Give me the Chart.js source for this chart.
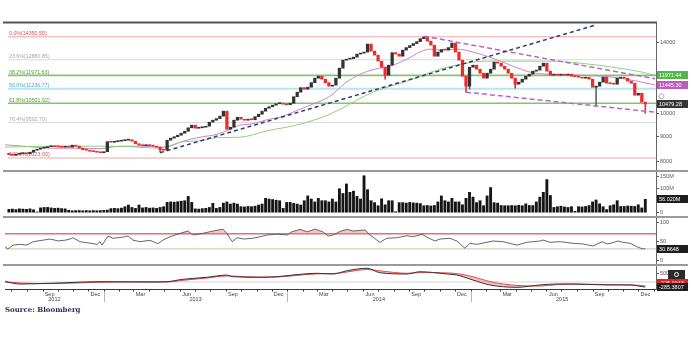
<!DOCTYPE html>
<html>
<head>
<meta charset="utf-8">
<title>QE Index weekly</title>
<script src="https://cdn.jsdelivr.net/npm/chart.js@4.4.1/dist/chart.umd.min.js"></script>
<style>
  html, body { margin: 0; padding: 0; background: #fff; }
  #wrap { position: relative; width: 692px; height: 338px; }
  #source { position: absolute; left: 5px; top: 305px; font: bold 7px "DejaVu Serif", serif; line-height: 10px; color: #2b2d4e; }
</style>
</head>
<body>
<div id="wrap">
  <canvas id="chart" width="692" height="338"></canvas>
  <div id="source">Source: Bloomberg</div>
</div>
<script>
// weekly bars, week 0 = 26 Jun 2012
const startDate = Date.UTC(2012, 5, 26);
const WEEK = 7 * 24 * 3600 * 1000;

const quarterMonths = ['Mar', 'Jun', 'Sep', 'Dec'];
const years = ['2012', '2013', '2014', '2015'];

const firstOpen = 8300;
const closes = [
  8250, 8230, 8265, 8285, 8305, 8285, 8345, 8425, 8465, 8505,
  8525, 8565, 8605, 8565, 8560, 8545, 8565, 8545, 8625, 8585,
  8505, 8445, 8425, 8385, 8365, 8345, 8325, 8365, 8770, 8745,
  8770, 8790, 8810, 8830, 8850, 8790, 8685, 8625, 8605, 8625,
  8605, 8585, 8545, 8445, 8425, 8830, 8915, 8975, 9040, 9125,
  9210, 9360, 9475, 9340, 9360, 9385, 9430, 9610, 9700, 9770,
  9885, 10120, 9295, 9385, 9700, 9835, 9745, 9700, 9745, 9720,
  9860, 9975, 10120, 10260, 10335, 10410, 10480, 10505, 10455, 10430,
  10505, 10830, 11065, 11300, 11220, 11325, 11570, 11815, 11925, 11760,
  11570, 11380, 11435, 11815, 12385, 12860, 12920, 12950, 13040, 13230,
  13290, 13355, 13865, 13420, 13165, 12800, 12440, 11985, 12560, 13320,
  13230, 13100, 13480, 13640, 13770, 13900, 14025, 14225, 14330, 14060,
  13800, 13100, 13355, 13510, 13480, 13640, 13930, 13355, 12860, 11925,
  11380, 12440, 12560, 12325, 12095, 11815, 12095, 12325, 12740, 12680,
  12500, 12325, 12095, 11815, 11485, 11595, 11760, 11925, 12040, 12210,
  12270, 12500, 12680, 12210, 11985, 12040, 11985, 12010, 11985, 12040,
  11925, 11900, 11870, 11815, 11870, 11760, 11325, 11380, 11595, 11870,
  11540, 11510, 11485, 11815, 11870, 11815, 11650, 11540, 10910, 11010,
  10555, 10479.28
];
// weeks whose shadow reaches past the body
const wickWeek = [43, 107, 118, 130, 131, 144, 167, 181];
const wickLow = [8345, 11760, 14225, 11065, 11220, 11270, 10360, 10020];
const wickHigh = [8545, 12440, 14350.55, 11925, 12440, 11815, 11380, 10555];

// volume, millions of shares
const volumeM = [
  14, 15, 13, 16, 15, 14, 16, 12, 3, 20,
  22, 22, 20, 18, 19, 17, 16, 10, 8, 9,
  9, 8, 9, 8, 9, 8, 9, 10, 11, 17,
  18, 17, 19, 25, 32, 22, 18, 32, 20, 22,
  19, 20, 18, 22, 25, 43, 45, 44, 46, 48,
  50, 68, 43, 16, 15, 17, 18, 22, 39, 18,
  22, 40, 45, 36, 40, 36, 25, 24, 26, 25,
  27, 32, 36, 60, 57, 55, 52, 50, 18, 43,
  43, 39, 36, 32, 50, 70, 57, 45, 60, 50,
  50, 45, 57, 45, 100, 80, 120, 85, 90, 68,
  57, 154, 96, 50, 42, 29, 58, 33, 50, 50,
  4, 42, 42, 40, 43, 41, 40, 38, 29, 30,
  28, 30, 45, 70, 50, 45, 60, 45, 45, 33,
  60, 85, 65, 42, 50, 29, 70, 105, 42, 40,
  30, 29, 29, 30, 29, 31, 29, 37, 30, 30,
  45, 65, 85, 138, 72, 22, 25, 27, 24, 22,
  25, 6, 25, 24, 26, 30, 45, 53, 37, 25,
  13, 29, 33, 50, 26, 26, 28, 27, 26, 33,
  20, 56.02
];

// moving averages
const maFastWeek = [-1.1, 6.0, 11.7, 20.2, 25.9, 31.6, 38.1, 43.0, 45.8, 49.5, 54.4, 59.2, 62.9, 65.7, 68.6, 73.4, 78.0, 82.8, 87.1, 91.3, 95.6, 99.9, 104.1, 108.4, 113.2, 116.9, 119.8, 122.6, 127.4, 132.0, 136.8, 143.4, 148.2, 153.0, 162.4, 171.8, 178.6, 183.8];
const maFast = [8640, 8565, 8505, 8505, 8485, 8585, 8585, 8545, 8585, 8790, 8955, 9080, 9295, 9475, 9520, 9720, 9885, 10215, 10505, 10855, 11540, 12040, 12325, 12500, 12920, 13355, 13545, 13480, 13545, 13355, 13040, 12500, 12155, 12040, 11985, 11870, 11650, 11445.30];
const maSlowWeek = [-1.1, 3.2, 14.5, 25.9, 34.4, 43.0, 48.7, 54.4, 59.2, 65.7, 73.4, 82.8, 91.3, 94.2, 103.6, 113.2, 122.6, 132.0, 136.8, 145.4, 153.0, 162.4, 171.8, 179.5, 183.8];
const maSlow = [8545, 8565, 8585, 8585, 8565, 8505, 8745, 8810, 8935, 8955, 9225, 9520, 9975, 10215, 11065, 11650, 12325, 12740, 12800, 12800, 12800, 12680, 12440, 12180, 11971.44];

// trend line and falling channel
const trendWeek = [43.0, 166.7];
const trendValue = [8325, 15150];
const channelTopWeek = [118.1, 183.8];
const channelTop = [14390, 11780];
const channelLowWeek = [130.0, 183.8];
const channelLow = [11065, 10070];

// retracement from the 2012 low to the 2014 high
const fibHigh = 14350.55;
const fibLow = 8123.00;
const fibPct = [0, 23.6, 38.2, 50, 61.8, 76.4, 100];

const rsiWeek = [-1.1, -0.3, 1.2, 3.2, 5.1, 6.9, 9.7, 11.7, 14.0, 16.0, 17.4, 18.2, 20.2, 23.1, 25.1, 25.9, 26.5, 28.2, 29.6, 32.5, 33.9, 35.3, 37.3, 40.1, 42.4, 43.8, 45.8, 48.7, 50.9, 52.4, 55.2, 58.0, 60.9, 62.0, 63.5, 64.9, 66.6, 69.4, 71.4, 73.4, 76.3, 79.1, 80.5, 82.8, 84.8, 87.1, 89.3, 90.8, 92.2, 94.2, 96.2, 97.9, 101.3, 102.7, 105.5, 107.5, 110.4, 113.2, 114.9, 117.5, 119.2, 121.2, 122.6, 125.4, 127.4, 129.7, 131.1, 133.1, 136.0, 137.7, 140.5, 144.5, 147.4, 151.0, 151.9, 153.9, 156.8, 160.4, 163.3, 166.1, 168.7, 170.1, 171.8, 173.2, 174.6, 176.7, 178.6, 180.3, 181];
const rsi = [36, 30, 40, 42, 40, 49, 53, 56, 51, 53, 56, 59.5, 49, 45, 42, 49, 40, 64, 58, 61, 64, 53, 49, 52.6, 43.7, 53, 62, 71, 77, 66.6, 71, 77, 82, 71, 49, 59.5, 56, 58, 62, 66.6, 69, 66.6, 75, 81.5, 75, 82, 75, 64, 66.6, 76, 81.5, 77, 80, 66.6, 47.4, 58, 59.5, 64.7, 62, 68.4, 59.5, 50.8, 56, 58, 50.8, 31.6, 44.7, 42, 47.4, 50.8, 49, 40, 47.4, 50.8, 53.4, 47.4, 49, 44.7, 43, 37.6, 49, 43, 46.3, 50.8, 47.4, 44.7, 35.8, 29.7, 30.8648];

const macdWeek = [-1.1, 3.2, 11.7, 25.9, 40.1, 44.9, 49.5, 56.3, 62.0, 63.7, 71.4, 76.3, 80.8, 87.6, 92.2, 96.2, 101.9, 105.5, 113.2, 116.9, 124.6, 127.4, 132.0, 136.8, 144.5, 151.0, 155.9, 160.4, 170.1, 176.7, 180.3, 181];
const macd = [17, -115, -75, 17, 0, 17, 155, 270, 400, 305, 270, 305, 400, 500, 460, 650, 790, 535, 460, 590, 460, 400, 115, -170, -305, -170, -115, -115, -170, -170, -270, -285.3807];
const macdSignal = [20, -60, -90, -10, 10, 5, 100, 230, 350, 340, 280, 290, 360, 470, 480, 580, 720, 640, 500, 540, 520, 480, 300, 20, -200, -230, -150, -120, -150, -165, -215, -226.1043];

// ---------------------------------------------------------------

const xMin = -1.11, xMax = 184.04;
const UP = '#333333', DOWN = '#ee2b2b';
const tickFont = { family: '"Liberation Sans", Arial, sans-serif', size: 5.5 };

const weekOf = (y, m, d) => (Date.UTC(y, m, d) - startDate) / WEEK;

const quarterTicks = [];
years.forEach(y => {
  quarterMonths.forEach(name => {
    const m = ['Jan','Feb','Mar','Apr','May','Jun','Jul','Aug','Sep','Oct','Nov','Dec'].indexOf(name);
    const w = weekOf(+y, m, 15);
    if (w > xMin && w < xMax) quarterTicks.push({ w, name });
  });
});

const opens = closes.map((c, i) => i === 0 ? firstOpen : closes[i - 1]);
const candleColor = i => closes[i] >= opens[i] ? UP : DOWN;

const fibLevels = fibPct.map(p => {
  const value = fibHigh - p / 100 * (fibHigh - fibLow);
  return { value, label: p.toFixed(1) + '%(' + value.toFixed(2) + ')' };
});
const fibLine = ['#f2a3a3', '#d9d9d9', '#80c66c', '#b8e4f2', '#80c66c', '#d9d9d9', '#f2a3a3'];
const fibWidth = [1, 1, 1.6, 2, 1.6, 1, 1];
const fibText = ['#d9534f', '#a6a6a6', '#4f9a35', '#4aa8cc', '#4f9a35', '#a6a6a6', '#d9534f'];

const pts = (xs, ys) => xs.map((x, i) => ({ x, y: ys[i] }));
const flat = v => [{ x: xMin, y: v }, { x: xMax, y: v }];

const datasets = [];

fibLevels.forEach((f, k) => datasets.push({
  type: 'line', yAxisID: 'yP', order: 10,
  data: [{ x: -0.3, y: f.value }, { x: xMax, y: f.value }],
  borderColor: fibLine[k], borderWidth: fibWidth[k], pointRadius: 0
}));

datasets.push({
  type: 'line', yAxisID: 'yP', order: 6, data: pts(maSlowWeek, maSlow),
  borderColor: '#8fd07e', borderWidth: 1, pointRadius: 0, cubicInterpolationMode: 'monotone'
});
datasets.push({
  type: 'line', yAxisID: 'yP', order: 6, data: pts(maFastWeek, maFast),
  borderColor: '#cf7fcf', borderWidth: 1, pointRadius: 0, cubicInterpolationMode: 'monotone'
});

datasets.push({
  type: 'bar', yAxisID: 'yP', order: 4, grouped: false, barThickness: 1,
  data: wickWeek.map((w, k) => ({ x: w, y: [wickLow[k], wickHigh[k]] })),
  backgroundColor: wickWeek.map(w => candleColor(w) === UP ? '#666' : DOWN)
});
datasets.push({
  type: 'bar', yAxisID: 'yP', order: 3, grouped: false, barThickness: 2.6, minBarLength: 1,
  data: closes.map((c, i) => ({ x: i, y: [opens[i], c] })),
  backgroundColor: closes.map((c, i) => candleColor(i))
});

datasets.push({
  type: 'line', yAxisID: 'yP', order: 1, data: pts(trendWeek, trendValue),
  borderColor: '#2e3d6b', borderWidth: 1.5, borderDash: [4, 3], pointRadius: 0
});
[[channelTopWeek, channelTop], [channelLowWeek, channelLow]].forEach(([w, v]) => datasets.push({
  type: 'line', yAxisID: 'yP', order: 1, data: pts(w, v),
  borderColor: '#b567c4', borderWidth: 1.5, borderDash: [5, 3], pointRadius: 0
}));

datasets.push({
  type: 'bar', yAxisID: 'yV', order: 3, grouped: false, barThickness: 2.2,
  data: volumeM.map((v, i) => ({ x: i, y: v })), backgroundColor: '#151515'
});

datasets.push({ type: 'line', yAxisID: 'yR', order: 5, data: flat(70), borderColor: '#e27070', borderWidth: 1.4, pointRadius: 0 });
datasets.push({ type: 'line', yAxisID: 'yR', order: 5, data: flat(30), borderColor: '#a8d79c', borderWidth: 1, pointRadius: 0 });
datasets.push({
  type: 'line', yAxisID: 'yR', order: 2, data: pts(rsiWeek, rsi),
  borderColor: '#555', borderWidth: 0.9, pointRadius: 0,
  fill: { target: { value: 70 }, above: 'rgba(240,130,130,0.45)', below: 'rgba(0,0,0,0)' }
});

datasets.push({ type: 'line', yAxisID: 'yM', order: 5, data: flat(0), borderColor: '#d6d6d6', borderWidth: 1, pointRadius: 0 });
datasets.push({
  type: 'line', yAxisID: 'yM', order: 3, data: pts(macdWeek, macdSignal),
  borderColor: '#e23a3a', borderWidth: 1, pointRadius: 0, cubicInterpolationMode: 'monotone'
});
datasets.push({
  type: 'line', yAxisID: 'yM', order: 2, data: pts(macdWeek, macd),
  borderColor: '#333', borderWidth: 1, pointRadius: 0, cubicInterpolationMode: 'monotone',
  fill: '-1', backgroundColor: 'rgba(236,120,120,0.45)'
});

function paneAxis(type, weight, min, max, tickValues, fmt) {
  return {
    type, position: 'right', stack: 'panes', stackWeight: weight, offset: false,
    min, max,
    grid: { display: true, drawOnChartArea: false, drawTicks: true, tickLength: 3, color: '#555' },
    border: { display: true, color: '#666', width: 1 },
    afterBuildTicks: s => { s.ticks = tickValues.map(value => ({ value })); },
    ticks: { autoSkip: false, padding: 1, color: '#555', font: tickFont, callback: fmt },
    afterFit: s => { s.width = 36; }
  };
}

function tag(ctx, y, bg, text) {
  ctx.fillStyle = bg;
  ctx.fillRect(657, Math.round(y) - 4, 31, 8);
  ctx.fillStyle = '#fff';
  ctx.font = '5.5px "Liberation Sans", Arial, sans-serif';
  ctx.textAlign = 'left';
  ctx.textBaseline = 'middle';
  ctx.fillText(text, 659, Math.round(y) + 0.5);
}

const overlay = {
  id: 'overlay',
  beforeDatasetsDraw(chart) {
    const ctx = chart.ctx, yP = chart.scales.yP;
    ctx.save();
    ctx.font = '5.3px "Liberation Sans", Arial, sans-serif';
    ctx.textAlign = 'left';
    ctx.textBaseline = 'bottom';
    fibLevels.forEach((f, k) => {
      ctx.fillStyle = fibText[k];
      ctx.fillText(f.label, 9, yP.getPixelForValue(f.value) - 0.5);
    });
    ctx.restore();
  },
  afterDraw(chart) {
    const ctx = chart.ctx, s = chart.scales;
    ctx.save();

    // frame above the price pane and pane dividers
    ctx.strokeStyle = '#555';
    ctx.lineWidth = 2;
    ctx.beginPath(); ctx.moveTo(3, s.yP.top - 0.5); ctx.lineTo(657, s.yP.top - 0.5); ctx.stroke();
    ctx.strokeStyle = '#9a9a9a';
    [s.yV.top, s.yR.top, s.yM.top].forEach(t => {
      ctx.beginPath(); ctx.moveTo(3, t); ctx.lineTo(688, t); ctx.stroke();
    });

    // month tick marks, year dividers and year labels
    const xs = s.x;
    ctx.strokeStyle = '#333';
    ctx.lineWidth = 1;
    for (let y = 2012; y <= 2016; y++) {
      for (let m = 0; m < 12; m++) {
        const w = weekOf(y, m, 1);
        if (w < xMin || w > xMax) continue;
        const px = Math.round(xs.getPixelForValue(w)) + 0.5;
        ctx.beginPath(); ctx.moveTo(px, xs.top); ctx.lineTo(px, xs.top + 2.5); ctx.stroke();
      }
    }
    ctx.font = '5.5px "Liberation Sans", Arial, sans-serif';
    ctx.fillStyle = '#444';
    ctx.textAlign = 'center';
    ctx.textBaseline = 'middle';
    years.forEach(y => {
      const a = Math.max(weekOf(+y, 0, 1), xMin);
      const b = Math.min(weekOf(+y + 1, 0, 1), xMax);
      const pa = xs.getPixelForValue(a), pb = xs.getPixelForValue(b);
      ctx.fillText(y, (pa + pb) / 2, xs.top + 10.5);
      if (a > xMin) {
        ctx.strokeStyle = '#b5b5b5';
        const px = Math.round(pa) + 0.5;
        ctx.beginPath(); ctx.moveTo(px, xs.top + 3); ctx.lineTo(px, xs.top + 13); ctx.stroke();
      }
    });

    // last-value tags on the right axis
    tag(ctx, s.yP.getPixelForValue(maSlow[maSlow.length - 1]), '#4fb848', maSlow[maSlow.length - 1].toFixed(2));
    tag(ctx, s.yP.getPixelForValue(maFast[maFast.length - 1]), '#bf5bbf', maFast[maFast.length - 1].toFixed(2));
    tag(ctx, s.yP.getPixelForValue(closes[closes.length - 1]), '#363636', closes[closes.length - 1].toFixed(2));
    tag(ctx, s.yV.getPixelForValue(volumeM[volumeM.length - 1]), '#1e1e1e', volumeM[volumeM.length - 1].toFixed(3) + 'M');
    tag(ctx, s.yR.getPixelForValue(rsi[rsi.length - 1]), '#1e1e1e', rsi[rsi.length - 1].toFixed(4));
    const macdY = s.yM.getPixelForValue(macd[macd.length - 1]);
    const sigY = Math.min(s.yM.getPixelForValue(macdSignal[macdSignal.length - 1]), macdY - 4);
    tag(ctx, sigY, '#e02424', macdSignal[macdSignal.length - 1].toFixed(4));
    tag(ctx, macdY, '#1e1e1e', macd[macd.length - 1].toFixed(4));

    // small chart controls
    ctx.fillStyle = '#2a2a2a';
    ctx.fillRect(668, s.yM.top + 5, 17, 9);
    ctx.strokeStyle = '#fff';
    ctx.beginPath(); ctx.arc(676.5, s.yM.top + 9.5, 2, 0, Math.PI * 2); ctx.stroke();
    ctx.strokeStyle = '#b0b0b0';
    ctx.beginPath(); ctx.arc(661.5, s.yP.getPixelForValue(10850), 2.5, 0, Math.PI * 2); ctx.stroke();

    ctx.restore();
  }
};

new Chart(document.getElementById('chart'), {
  type: 'line',
  data: { datasets },
  plugins: [overlay],
  options: {
    responsive: false,
    animation: false,
    devicePixelRatio: 1,
    events: [],
    layout: { padding: { top: 23, left: 5, right: 0, bottom: 0 } },
    plugins: { legend: { display: false }, tooltip: { enabled: false } },
    scales: {
      x: {
        type: 'linear', min: xMin, max: xMax, offset: false,
        grid: { display: false, drawTicks: false, offset: false },
        border: { display: true, color: '#3a3a3a', width: 1 },
        afterBuildTicks: s => { s.ticks = quarterTicks.map(q => ({ value: q.w })); },
        ticks: {
          autoSkip: false, maxRotation: 0, padding: 2, color: '#444', font: tickFont,
          callback: (v, i) => quarterTicks[i] ? quarterTicks[i].name : ''
        },
        afterFit: s => { s.height = 49; }
      },
      yP: paneAxis('logarithmic', 148, 7641, 15310, [8000, 9000, 10000, 14000], v => String(v)),
      yV: paneAxis('linear', 46, -18, 174, [0, 50, 100, 150], v => v === 0 ? '0' : v + 'M'),
      yR: paneAxis('linear', 48, -12.4, 114, [0, 50, 100], v => String(v)),
      yM: paneAxis('linear', 24, -402, 977, [0, 500], v => String(v))
    }
  }
});
</script>
</body>
</html>
